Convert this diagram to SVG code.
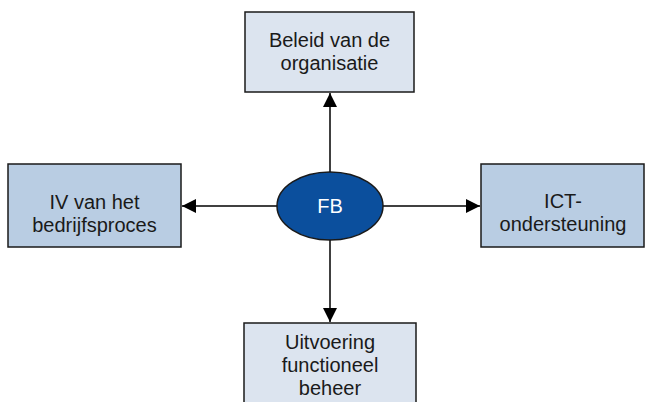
<svg xmlns="http://www.w3.org/2000/svg" width="646" height="402" viewBox="0 0 646 402">
<defs>
<style>
.box{stroke:#1a1a1a;stroke-width:1.5}
.light{fill:#dce4ef}
.dark{fill:#b9cde3}
.t{font-family:"Liberation Sans","Open Sans",sans-serif;font-size:20px;fill:#1a1a1a;text-anchor:middle}
.edge{stroke:#000;stroke-width:1.5;fill:none;marker-end:url(#ah)}
</style>
<marker id="ah" markerWidth="14" markerHeight="14" viewBox="0 0 14 14" refX="14" refY="7" orient="auto" markerUnits="userSpaceOnUse">
<path d="M0,0 L14,7 L0,14 Z" fill="#000"/>
</marker>
</defs>
<rect width="646" height="402" fill="#fff"/>
<g id="connectors">
<line class="edge" x1="330" y1="172" x2="330" y2="93"/>
<line class="edge" x1="277" y1="206" x2="182" y2="206"/>
<line class="edge" x1="383" y1="206" x2="480" y2="206"/>
<line class="edge" x1="330" y1="240" x2="330" y2="322"/>
</g>
<g id="beleid">
<rect class="box light" x="245" y="12" width="169" height="80"/>
<text class="t" x="329.5" y="47">Beleid van de</text>
<text class="t" x="329.5" y="70">organisatie</text>
</g>
<g id="iv">
<rect class="box dark" x="8" y="164" width="173" height="83"/>
<text class="t" x="94.5" y="209">IV van het</text>
<text class="t" x="94.5" y="232">bedrijfsproces</text>
</g>
<g id="ict">
<rect class="box dark" x="481" y="164" width="163" height="83"/>
<text class="t" x="563" y="208">ICT-</text>
<text class="t" x="563" y="231">ondersteuning</text>
</g>
<g id="uitvoering">
<rect class="box light" x="244" y="323" width="172" height="90"/>
<text class="t" x="330" y="349">Uitvoering</text>
<text class="t" x="330" y="372">functioneel</text>
<text class="t" x="330" y="395">beheer</text>
</g>
<g id="fb">
<ellipse cx="330" cy="206" rx="53" ry="34" fill="#0b4f9d" stroke="#1a1a1a" stroke-width="1.5"/>
<text class="t" x="330" y="213" style="fill:#fff">FB</text>
</g>
</svg>
